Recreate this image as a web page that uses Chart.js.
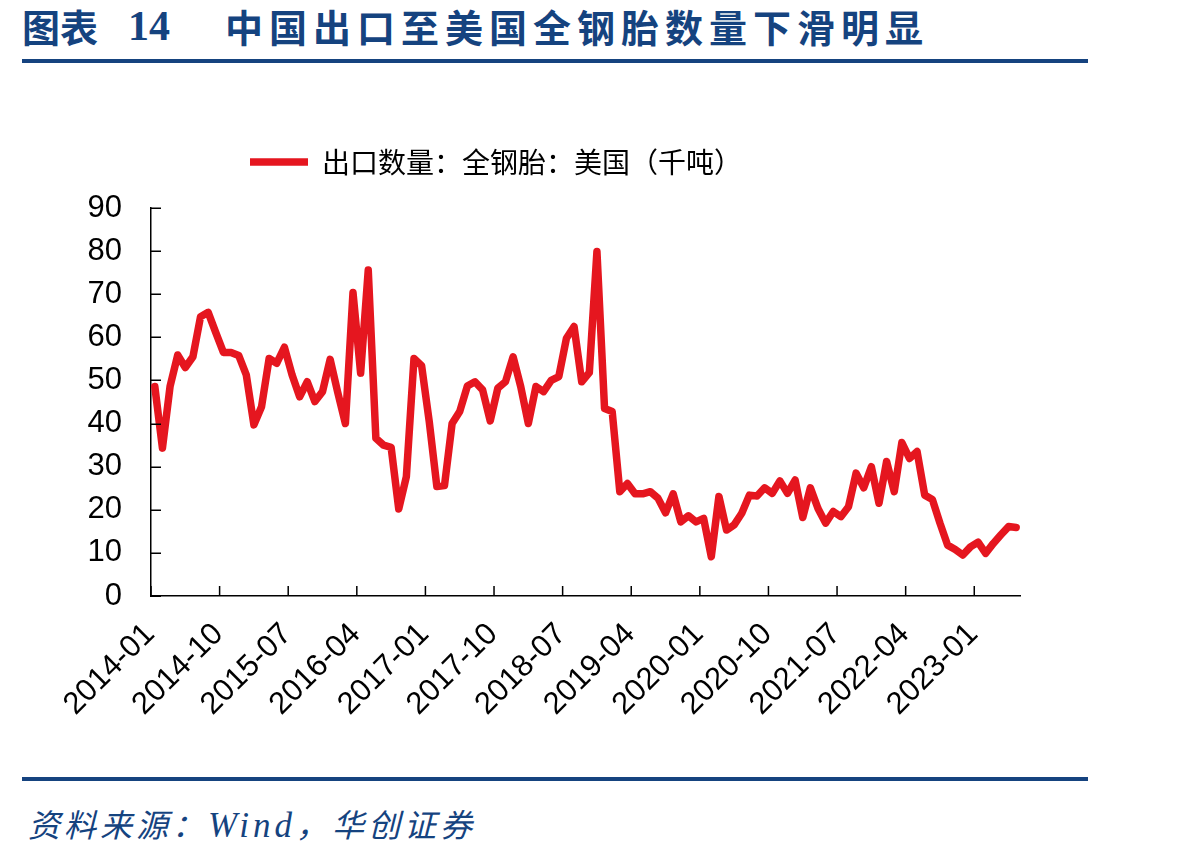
<!DOCTYPE html>
<html>
<head>
<meta charset="utf-8">
<script src="https://cdn.jsdelivr.net/npm/chart.js@4"></script>
<style>
    body { margin: 0; background: #fff; width: 1198px; height: 857px; position: relative; overflow: hidden; }
    .blue { color: #15437f; }
    .title { position: absolute; top: 6px; font-size: 38px; line-height: 40px; font-weight: bold; font-family: "Noto Sans CJK SC", sans-serif; }
    .num { font-family: "Liberation Serif", serif; font-size: 42px; }
    .rule { position: absolute; left: 22px; width: 1066px; height: 4px; background: #15437f; }
    .source { position: absolute; left: 28px; top: 805px; font-size: 32px; line-height: 36px; font-style: italic; letter-spacing: 4px; font-family: "Noto Sans CJK SC", serif; }
    .source .en { font-family: "Liberation Serif", serif; font-size: 35px; }
    #wrap { position: absolute; left: 0; top: 138px; }
</style>
</head>
<body>
<div class="title blue" style="left:22px">图表</div>
<div class="title blue num" style="left:128px">14</div>
<div class="title blue" style="left:225px; letter-spacing:6px">中国出口至美国全钢胎数量下滑明显</div>
<div class="rule" style="top:59px"></div>
<div id="wrap"><canvas id="exportChart" width="1198" height="598"></canvas></div>
<div class="rule" style="top:777px"></div>
<div class="source blue">资料来源：<span class="en">Wind</span>，华创证券</div>

<script>
// Monthly categories 2014-01 .. 2023-06
const months = [];
for (let yr = 2014; yr <= 2023; yr++) {
    for (let m = 1; m <= 12; m++) {
        if (yr === 2023 && m > 6) break;
        months.push(yr + '-' + String(m).padStart(2, '0'));
    }
}

// Labels shown on the x axis
const tickLabels = ['2014-01', '2014-10', '2015-07', '2016-04', '2017-01', '2017-10', '2018-07',
    '2019-04', '2020-01', '2020-10', '2021-07', '2022-04', '2023-01'];

// 出口数量：全钢胎：美国（千吨）
const exportQty = [
    48.6, 34.3, 48.6, 55.9, 53.0, 55.5, 64.8, 65.8, 61.1, 56.5, 56.5, 55.8,
    51.3, 39.7, 43.9, 55.1, 54.0, 57.7, 51.3, 46.2, 49.7, 45.1, 47.4, 54.9,
    47.2, 40.0, 70.4, 51.7, 75.6, 36.6, 35.0, 34.5, 20.2, 27.7, 55.1, 53.4,
    40.5, 25.4, 25.6, 40.0, 42.8, 48.7, 49.7, 47.8, 40.6, 48.2, 49.7, 55.5,
    48.6, 40.0, 48.6, 47.4, 50.0, 50.9, 59.8, 62.5, 49.7, 51.8, 79.9, 43.5,
    42.8, 24.2, 26.1, 23.7, 23.7, 24.2, 22.7, 19.3, 23.7, 17.2, 18.6, 17.2,
    18.0, 9.1, 23.1, 15.3, 16.5, 19.2, 23.4, 23.2, 25.1, 23.8, 26.7, 23.8,
    26.9, 18.2, 25.1, 20.3, 16.9, 19.6, 18.4, 20.7, 28.5, 25.1, 30.0, 21.5,
    31.2, 24.2, 35.6, 31.9, 33.5, 23.4, 22.4, 16.9, 11.8, 10.8, 9.5, 11.4,
    12.5, 9.9, 12.2, 14.2, 16.1, 15.9
];

const seriesName = '出口数量：全钢胎：美国（千吨）';
const lineRed = '#e5161f';

// Short tick marks drawn inside the plot, like the source chart
const innerTicks = {
    id: 'innerTicks',
    afterDraw(chart) {
        const { ctx, chartArea, scales: { x, y } } = chart;
        ctx.save();
        ctx.strokeStyle = '#000';
        ctx.lineWidth = 1.5;
        ctx.beginPath();
        y.ticks.forEach((t, i) => {
            const py = Math.round(y.getPixelForTick(i)) + 0.25;
            ctx.moveTo(chartArea.left, py);
            ctx.lineTo(chartArea.left + 10, py);
        });
        const half = (x.getPixelForValue(1) - x.getPixelForValue(0)) / 2;
        tickLabels.forEach(lbl => {
            const px = x.getPixelForValue(months.indexOf(lbl)) - half;
            ctx.moveTo(px, chartArea.bottom);
            ctx.lineTo(px, chartArea.bottom - 10);
        });
        ctx.stroke();
        ctx.restore();
    }
};

// Put the legend where the source has it (left of centre, closer to the top)
const legendShift = {
    id: 'legendShift',
    afterLayout(chart) {
        const lg = chart.legend;
        if (lg) {
            lg.left = 250 - lg.options.labels.padding;
            lg.top -= 22;
            lg.bottom -= 22;
        }
    }
};

const ctx = document.getElementById('exportChart').getContext('2d');
new Chart(ctx, {
    type: 'line',
    data: {
        labels: months,
        datasets: [{
            label: seriesName,
            data: exportQty,
            borderColor: lineRed,
            backgroundColor: lineRed,
            borderWidth: 7.5,
            borderCapStyle: 'round',
            borderJoinStyle: 'round',
            pointRadius: 0,
            tension: 0,
            fill: false
        }]
    },
    options: {
        responsive: false,
        animation: false,
        layout: { padding: { left: 0, right: 178, top: 0, bottom: 0 } },
        plugins: {
            legend: {
                position: 'top',
                align: 'start',
                labels: {
                    usePointStyle: true,
                    pointStyle: 'line',
                    pointStyleWidth: 58,
                    boxHeight: 7,
                    padding: 32,
                    color: '#000',
                    font: { family: '"Noto Sans CJK SC", sans-serif', size: 28 }
                }
            },
            tooltip: { enabled: false }
        },
        scales: {
            x: {
                type: 'category',
                offset: true,
                grid: { display: false, drawTicks: false },
                border: { display: true, color: '#000', width: 1.5 },
                ticks: {
                    autoSkip: false,
                    minRotation: 45,
                    maxRotation: 45,
                    padding: 20,
                    labelOffset: -5,
                    color: '#000',
                    font: { family: '"Liberation Sans", Arial, sans-serif', size: 31 },
                    callback: function(value) {
                        const m = this.getLabelForValue(value);
                        return tickLabels.includes(m) ? m : '';
                    }
                },
                afterFit(scale) { scale.height = 140; }
            },
            y: {
                min: 0,
                max: 90,
                grid: { display: false, drawTicks: false },
                border: { display: true, color: '#000', width: 1.5 },
                ticks: {
                    stepSize: 10,
                    padding: 29,
                    color: '#000',
                    font: { family: '"Liberation Sans", Arial, sans-serif', size: 31 }
                },
                afterFit(scale) { scale.width = 151; }
            }
        }
    },
    plugins: [innerTicks, legendShift]
});
</script>
</body>
</html>
